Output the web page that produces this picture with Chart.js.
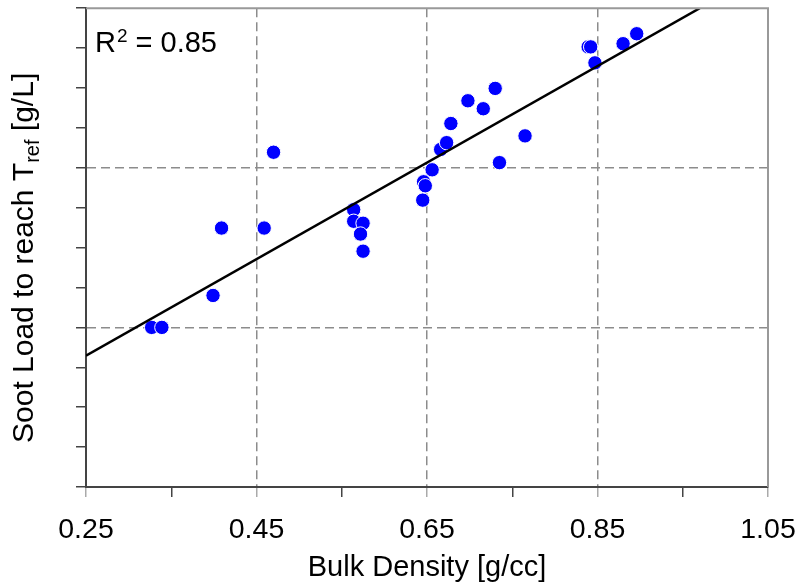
<!DOCTYPE html>
<html>
<head>
<meta charset="utf-8">
<script src="https://cdn.jsdelivr.net/npm/chart.js@4"></script>
<style>
  html, body { margin: 0; padding: 0; background: #fff; }
  #wrap { width: 801px; height: 588px; }
</style>
</head>
<body>
<div id="wrap"><canvas id="chart" width="801" height="588"></canvas></div>
<script>
// measured points (bulk density vs soot load)
const density = [0.327, 0.339, 0.399, 0.409, 0.459, 0.470, 0.564, 0.564, 0.575, 0.572,
  0.575, 0.645, 0.646, 0.648, 0.656, 0.666, 0.673, 0.678, 0.698, 0.716,
  0.730, 0.735, 0.765, 0.839, 0.842, 0.847, 0.880, 0.896];
const sootLoad = [4.00, 4.00, 4.80, 6.49, 6.49, 8.39, 6.95, 6.66, 6.61, 6.34,
  5.91, 7.19, 7.65, 7.55, 7.95, 8.46, 8.63, 9.11, 9.68, 9.48,
  9.99, 8.13, 8.80, 11.03, 11.03, 10.63, 11.11, 11.36];

// regression line end points
const fitX = [0.25, 0.970];
const fitY = [3.29, 12.0];

const xTicks = [0.25, 0.35, 0.45, 0.55, 0.65, 0.75, 0.85, 0.95, 1.05];
const xLabels = ['0.25', '', '0.45', '', '0.65', '', '0.85', '', '1.05'];
const yTicks = [0, 1, 2, 3, 4, 5, 6, 7, 8, 9, 10, 11, 12];
const yGrid = [4, 8];

const FONT = '"Liberation Sans", Arial, sans-serif';

const points = density.map((d, i) => ({ x: d, y: sootLoad[i] }));
const fitLine = fitX.map((d, i) => ({ x: d, y: fitY[i] }));

const extras = {
  id: 'extras',
  afterDraw(chart) {
    const { ctx, chartArea: a } = chart;
    ctx.save();
    // top and right frame
    ctx.strokeStyle = '#999';
    ctx.lineWidth = 2;
    ctx.beginPath();
    ctx.moveTo(a.left, a.top);
    ctx.lineTo(a.right, a.top);
    ctx.lineTo(a.right, a.bottom);
    ctx.stroke();

    ctx.fillStyle = '#000';
    ctx.textBaseline = 'alphabetic';
    ctx.textAlign = 'left';

    // R^2 note
    let x = 95;
    ctx.font = '29px ' + FONT;
    ctx.fillText('R', x, 52);
    x += ctx.measureText('R').width + 1;
    ctx.font = '19px ' + FONT;
    ctx.fillText('2', x, 42);
    x += ctx.measureText('2').width;
    ctx.font = '29px ' + FONT;
    ctx.fillText(' = 0.85', x, 52);

    // y axis title with subscript
    ctx.translate(33, 443);
    ctx.rotate(-Math.PI / 2);
    ctx.font = '30px ' + FONT;
    let t = 0;
    ctx.fillText('Soot Load to reach T', t, 0);
    t += ctx.measureText('Soot Load to reach T').width;
    ctx.font = '20px ' + FONT;
    ctx.fillText('ref', t, 6);
    t += ctx.measureText('ref').width;
    ctx.font = '30px ' + FONT;
    ctx.fillText(' [g/L]', t, 0);
    ctx.restore();
  }
};

new Chart(document.getElementById('chart'), {
  type: 'scatter',
  data: {
    datasets: [
      {
        data: points,
        backgroundColor: '#0000ff',
        borderColor: '#ffffff',
        borderWidth: 1,
        pointRadius: 7.2,
        pointHoverRadius: 7.2,
        order: 2
      },
      {
        type: 'line',
        data: fitLine,
        borderColor: '#000',
        borderWidth: 2.5,
        pointRadius: 0,
        fill: false,
        order: 1
      }
    ]
  },
  options: {
    responsive: false,
    animation: false,
    events: [],
    layout: { padding: { top: 7, right: 33, left: 0, bottom: 0 } },
    plugins: { legend: { display: false }, tooltip: { enabled: false } },
    scales: {
      x: {
        type: 'linear',
        min: 0.25,
        max: 1.05,
        afterBuildTicks: s => { s.ticks = xTicks.map(v => ({ value: v })); },
        afterFit: s => { s.height = 101; s.paddingLeft = 0; s.paddingRight = 0; },
        ticks: {
          color: '#000',
          font: { family: FONT, size: 28.5 },
          padding: 16,
          maxRotation: 0,
          autoSkip: false,
          callback: (v, i) => xLabels[i]
        },
        grid: {
          color: c => [0.45, 0.65, 0.85].some(v => Math.abs(c.tick.value - v) < 1e-6) ? '#8c8c8c' : 'rgba(0,0,0,0)',
          lineWidth: 1.5,
          tickLength: 10,
          tickWidth: 1.5,
          tickColor: c => (Math.round(c.tick.value * 100) % 20 === 5) ? '#aaa' : '#444'
        },
        border: { color: '#444', width: 2, dash: [9, 5] },
        title: {
          display: true,
          text: 'Bulk Density [g/cc]',
          color: '#000',
          font: { family: FONT, size: 29 },
          padding: 3
        }
      },
      y: {
        type: 'linear',
        min: 0,
        max: 12,
        afterBuildTicks: s => { s.ticks = yTicks.map(v => ({ value: v })); },
        afterFit: s => { s.width = 86; s.paddingTop = 0; s.paddingBottom = 0; },
        ticks: { display: false },
        grid: {
          color: c => yGrid.includes(c.tick.value) ? '#8c8c8c' : 'rgba(0,0,0,0)',
          lineWidth: 1.5,
          tickLength: 10,
          tickWidth: 1.5,
          tickColor: '#444'
        },
        border: { color: '#444', width: 2, dash: [9, 5] }
      }
    }
  },
  plugins: [extras]
});
</script>
</body>
</html>
